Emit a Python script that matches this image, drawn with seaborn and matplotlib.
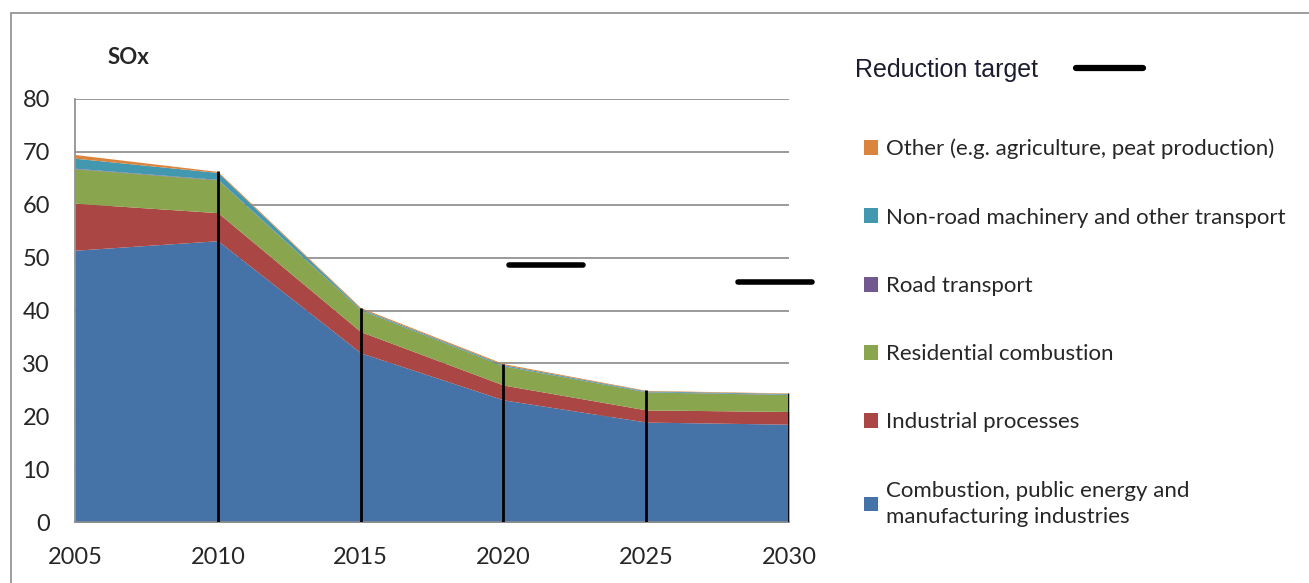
import numpy as np
import pandas as pd
import seaborn as sns
import matplotlib.pyplot as plt
from matplotlib.patches import Patch, Rectangle
from matplotlib.lines import Line2D

years = [2005, 2010, 2015, 2020, 2025, 2030]
combustion = [51.4, 53.2, 32.0, 23.1, 18.9, 18.5]
industrial = [8.9, 5.3, 4.0, 2.8, 2.3, 2.4]
residential = [6.5, 6.2, 4.1, 3.6, 3.4, 3.2]
road = [0.1, 0.1, 0.05, 0.05, 0.05, 0.05]
nonroad = [1.9, 1.3, 0.2, 0.2, 0.15, 0.15]
other = [0.7, 0.2, 0.2, 0.2, 0.1, 0.1]

series_names = ["Combustion, public energy and\nmanufacturing industries",
                "Industrial processes", "Residential combustion",
                "Road transport", "Non-road machinery and other transport",
                "Other (e.g. agriculture, peat production)"]
colors = ["#4572A7", "#AA4643", "#89A54E", "#71588F", "#4198AF", "#DB843D"]

target_years = [[2020.2, 2022.8], [2028.2, 2030.8]]
target_values = [48.6, 45.4]

sns.set_style("white")
plt.rcParams['font.family'] = ['Lato', 'DejaVu Sans']

df = pd.DataFrame({"year": years, "c": combustion, "i": industrial, "r": residential,
                   "t": road, "n": nonroad, "o": other})
totals = df[["c", "i", "r", "t", "n", "o"]].sum(axis=1)

fig = plt.figure(figsize=(13.09, 5.83), dpi=100)
ax = fig.add_axes([0.0573, 0.1046, 0.5455, 0.7256])

ax.stackplot(df["year"], df["c"], df["i"], df["r"], df["t"], df["n"], df["o"],
             colors=colors, linewidth=0, zorder=2)
ax.vlines(df["year"][1:], 0, totals[1:], color="black", lw=2, zorder=3)

for ty, tv in zip(target_years, target_values):
    sns.lineplot(x=ty, y=[tv, tv], color="black", lw=4, ax=ax, clip_on=False, zorder=4)

ax.set_xlim(2005, 2030)
ax.set_ylim(0, 80)
ax.set_xticks(years)
ax.set_yticks(range(0, 81, 10))
ax.tick_params(axis="both", labelsize=17, length=0)
ax.tick_params(axis="x", pad=18)
ax.tick_params(axis="y", pad=18)
ax.grid(axis="y", color="#898989", lw=1.2, zorder=1)
ax.set_axisbelow(True)
for s in ["top", "right"]:
    ax.spines[s].set_visible(False)
for s in ["left", "bottom"]:
    ax.spines[s].set_color("#898989")
    ax.spines[s].set_linewidth(1.2)
ax.set_xlabel("")
ax.set_ylabel("")

fig.text(128 / 1309, 1 - 58 / 583, "SOx", fontsize=16, fontweight="bold",
         ha="center", va="center")

handles = [Patch(facecolor=c, edgecolor="none") for c in colors][::-1]
leg = fig.legend(handles, series_names[::-1], loc="upper left",
                 bbox_to_anchor=(855 / 1309, 1 - 130 / 583), frameon=False,
                 fontsize=16, labelspacing=2.17, handlelength=0.65, handleheight=0.65,
                 handletextpad=0.35, borderaxespad=0)
for t in leg.get_texts():
    t.set_linespacing(1.4)

fig.legend([Line2D([0], [0], color="black", lw=4.5)], ["Reduction target"],
           loc="center left", bbox_to_anchor=(845 / 1309, 1 - 70 / 583),
           frameon=False, markerfirst=False, handlelength=2.7, handletextpad=1.5,
           prop={"family": "Liberation Sans", "size": 18}, labelcolor="#1c1c30",
           borderaxespad=0)

fig.add_artist(Rectangle((11 / 1309, -0.05), 1.0, 1.05 - 13 / 583, transform=fig.transFigure,
                         fill=False, edgecolor="#8c8c8c", lw=1.2))

fig.savefig("out.png", dpi=100)
